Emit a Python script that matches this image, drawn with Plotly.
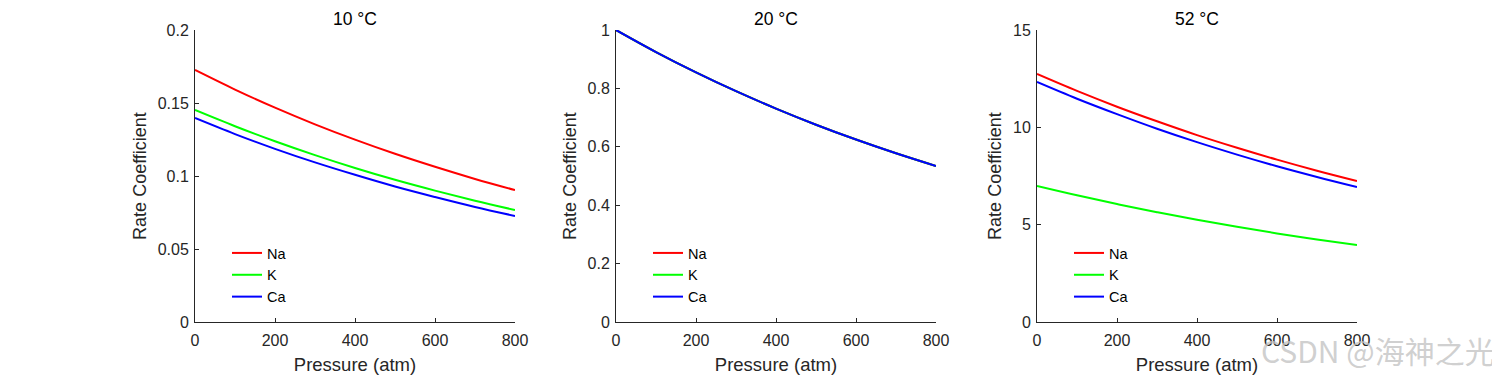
import plotly.graph_objects as go

pressure = [0, 100, 200, 300, 400, 500, 600, 700, 800]

# 10 °C
na_10 = [0.1726, 0.1592, 0.1468, 0.1354, 0.1249, 0.1152, 0.1063, 0.0980, 0.0904]
k_10 = [0.1452, 0.1341, 0.1238, 0.1143, 0.1055, 0.0974, 0.0900, 0.0831, 0.0767]
ca_10 = [0.1397, 0.1287, 0.1186, 0.1093, 0.1008, 0.0928, 0.0856, 0.0788, 0.0726]

# 20 °C
na_20 = [1.0, 0.9246, 0.8549, 0.7904, 0.7308, 0.6757, 0.6248, 0.5777, 0.5341]
k_20 = [1.0, 0.9246, 0.8549, 0.7904, 0.7308, 0.6757, 0.6248, 0.5777, 0.5341]
ca_20 = [1.0, 0.9246, 0.8549, 0.7904, 0.7308, 0.6757, 0.6248, 0.5777, 0.5341]

# 52 °C
na_52 = [12.74, 11.87, 11.06, 10.31, 9.60, 8.95, 8.34, 7.77, 7.24]
k_52 = [6.99, 6.51, 6.06, 5.64, 5.25, 4.89, 4.55, 4.24, 3.95]
ca_52 = [12.33, 11.47, 10.68, 9.93, 9.24, 8.60, 8.00, 7.45, 6.93]

titles = ["10 °C", "20 °C", "52 °C"]
series_names = ["Na", "K", "Ca"]
colors = ["#FF0000", "#00FF00", "#0000FF"]
panels = [[na_10, k_10, ca_10], [na_20, k_20, ca_20], [na_52, k_52, ca_52]]
y_ranges = [[0, 0.2], [0, 1], [0, 15]]
y_ticks = [[0, 0.05, 0.1, 0.15, 0.2], [0, 0.2, 0.4, 0.6, 0.8, 1], [0, 5, 10, 15]]
x_ticks = [0, 200, 400, 600, 800]

W, H = 1500, 375
OFF = 8  # page body margin: screen px = paper px + OFF


def px_x(sx):
    return (sx - OFF) / W


def px_y(sy):
    return (H - (sy - OFF)) / H


x_dom_px = [(195, 515), (616, 936), (1037, 1357)]
y_dom = [px_y(322), px_y(30)]
legend_x_px = [227, 648, 1069]

FONT = "Liberation Sans, Arial, sans-serif"
AX = "#262626"

fig = go.Figure()
layout = dict(
    width=W, height=H,
    margin=dict(l=0, r=0, t=0, b=0),
    paper_bgcolor="white", plot_bgcolor="white",
    font=dict(family=FONT, color=AX, size=16),
    annotations=[],
)

for i in range(3):
    xa = "x" if i == 0 else f"x{i+1}"
    ya = "y" if i == 0 else f"y{i+1}"
    lg = "legend" if i == 0 else f"legend{i+1}"
    for name, col, vals in zip(series_names, colors, panels[i]):
        fig.add_trace(go.Scatter(
            x=pressure, y=vals, mode="lines", name=name,
            line=dict(color=col, width=2, shape="spline"),
            xaxis=xa, yaxis=ya, legend=lg, showlegend=True,
        ))
    x0, x1 = x_dom_px[i]
    layout[f"xaxis{'' if i == 0 else i+1}"] = dict(
        domain=[px_x(x0), px_x(x1)], anchor=ya, range=[0, 800],
        tickvals=x_ticks, ticks="inside", ticklen=4, tickcolor=AX,
        showline=True, linecolor=AX, linewidth=1, mirror=False,
        showgrid=False, zeroline=False, automargin=False,
        tickfont=dict(size=16, color=AX), ticklabelstandoff=4,
        title=dict(text="Pressure (atm)", font=dict(size=18.5, color=AX), standoff=9),
    )
    layout[f"yaxis{'' if i == 0 else i+1}"] = dict(
        domain=list(y_dom), anchor=xa, range=y_ranges[i],
        tickvals=y_ticks[i], ticks="inside", ticklen=4, tickcolor=AX,
        showline=True, linecolor=AX, linewidth=1, mirror=False,
        showgrid=False, zeroline=False, automargin=False,
        tickfont=dict(size=16, color=AX), ticklabelstandoff=2,
        title=dict(text="Rate Coefficient", font=dict(size=18, color=AX), standoff=6),
    )
    layout[lg] = dict(
        x=px_x(legend_x_px[i]), xanchor="left",
        y=px_y(237), yanchor="top",
        bgcolor="rgba(0,0,0,0)", borderwidth=0,
        font=dict(size=14.5, color="black", family=FONT),
        tracegroupgap=0,
    )
    layout["annotations"].append(dict(
        text=titles[i], xref="paper", yref="paper",
        x=(px_x(x0) + px_x(x1)) / 2, y=1.0,
        xanchor="center", yanchor="top", showarrow=False,
        font=dict(size=17.5, color="black", family=FONT),
        borderpad=0,
    ))

layout["annotations"].append(dict(
    text="CSDN @海神之光", xref="paper", yref="paper",
    x=px_x(1497), y=px_y(350), xanchor="right", yanchor="middle",
    showarrow=False,
    font=dict(size=30, color="rgba(195,195,195,0.8)", family="Noto Sans CJK SC"),
))

fig.update_layout(**layout)
fig.write_html("out.html")
